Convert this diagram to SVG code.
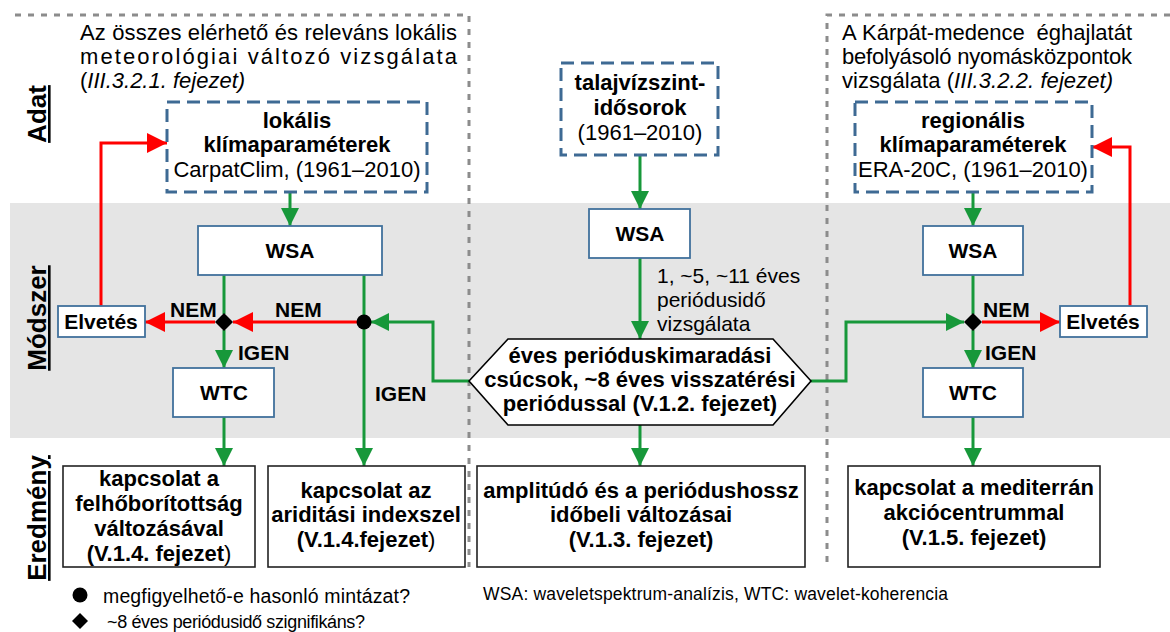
<svg xmlns="http://www.w3.org/2000/svg" width="1170" height="632" viewBox="0 0 1170 632">
<style>
text{font-family:"Liberation Sans",Arial,"DejaVu Sans",sans-serif;fill:#000}
.b{font-weight:bold}
.t22{font-size:22px}
.t21{font-size:21px}
.c{text-anchor:middle}
.e{text-anchor:end}
.dash{fill:#fff;stroke:#3e6a94;stroke-width:3;stroke-dasharray:13 7}
.proc{fill:#fff;stroke:#41719c;stroke-width:1.8}
.res{fill:#fff;stroke:#222;stroke-width:1.6}
.sep{fill:none;stroke:#8c8c8c;stroke-width:3;stroke-dasharray:6 7}
.g{fill:none;stroke:#17983a;stroke-width:3}
.r{fill:none;stroke:#f00;stroke-width:3}
.lab{font-size:26px;font-weight:bold;text-decoration:underline}
</style>
<defs>
<marker id="ag" markerUnits="userSpaceOnUse" markerWidth="18" markerHeight="18" refX="18" refY="9" orient="auto"><path d="M0,0 L18,9 L0,18 z" fill="#17983a"/></marker>
<marker id="ar" markerUnits="userSpaceOnUse" markerWidth="20" markerHeight="20" refX="20" refY="10" orient="auto"><path d="M0,0 L20,10 L0,20 z" fill="#f00"/></marker>
</defs>
<rect x="0" y="0" width="1170" height="632" fill="#fff"/>
<rect id="band" x="10" y="203" width="1160" height="235" fill="#e5e5e5"/>
<g id="separators">
<path class="sep" d="M15,15 H469 V567"/>
<path class="sep" d="M1170,15 H827 V566"/>
</g>
<g id="row-labels">
<text class="lab" transform="translate(46,114) rotate(-90)" text-anchor="middle">Adat</text>
<text class="lab" transform="translate(46,318) rotate(-90)" text-anchor="middle">Módszer</text>
<text class="lab" transform="translate(46,518) rotate(-90)" text-anchor="middle">Eredmény</text>
</g>
<g id="note-left">
<text class="t22" x="80" y="40" textLength="377" lengthAdjust="spacing">Az összes elérhető és releváns lokális</text>
<text class="t22" x="80" y="64" textLength="377" lengthAdjust="spacing">meteorológiai változó vizsgálata</text>
<text class="t22" x="80" y="88">(<tspan font-style="italic">III.3.2.1. fejezet)</tspan></text>
</g>
<g id="note-right">
<text class="t22" x="842" y="40">A</text>
<text class="t22" x="862" y="40">Kárpát-medence</text>
<text class="t22 e" x="1132" y="40">éghajlatát</text>
<text class="t22" x="842" y="64" textLength="290" lengthAdjust="spacing">befolyásoló nyomásközpontok</text>
<text class="t22" x="842" y="88" textLength="271" lengthAdjust="spacing">vizsgálata (<tspan font-style="italic">III.3.2.2. fejezet)</tspan></text>
</g>
<g id="connectors">
<path class="g" d="M290,192 V226" marker-end="url(#ag)"/>
<path class="g" d="M224,275 V314"/>
<path class="g" d="M224,330 V368" marker-end="url(#ag)"/>
<path class="g" d="M364,275 V466" marker-end="url(#ag)"/>
<path class="g" d="M469,381 H433 V322 H371" marker-end="url(#ag)"/>
<path class="g" d="M224,417 V466" marker-end="url(#ag)"/>
<path class="g" d="M640,155 V209" marker-end="url(#ag)"/>
<path class="g" d="M640,258 V339" marker-end="url(#ag)"/>
<path class="g" d="M640,425 V466" marker-end="url(#ag)"/>
<path class="g" d="M811,381 H846 V322 H964" marker-end="url(#ag)"/>
<path class="g" d="M973,192 V226" marker-end="url(#ag)"/>
<path class="g" d="M973,275 V314"/>
<path class="g" d="M973,330 V368" marker-end="url(#ag)"/>
<path class="g" d="M973,417 V466" marker-end="url(#ag)"/>
<path class="r" d="M357,322 H233" marker-end="url(#ar)"/>
<path class="r" d="M215,322 H145" marker-end="url(#ar)"/>
<path class="r" d="M101,306 V143 H167" marker-end="url(#ar)"/>
<path class="r" d="M982,322 H1060" marker-end="url(#ar)"/>
<path class="r" d="M1130,306 V147 H1092" marker-end="url(#ar)"/>
<text class="b t21" x="170" y="317">NEM</text>
<text class="b t21" x="275" y="317">NEM</text>
<text class="b t21" x="238" y="360">IGEN</text>
<text class="b t21" x="375" y="401">IGEN</text>
<text class="b t21" x="983" y="317">NEM</text>
<text class="b t21" x="985" y="360">IGEN</text>
<text class="t21" x="657" y="283">1, ~5, ~11 éves</text>
<text class="t21" x="657" y="307">periódusidő</text>
<text class="t21" x="657" y="331">vizsgálata</text>
</g>
<g id="lokalis">
<rect class="dash" x="167" y="102" width="260" height="90"/>
<text class="b t22 c" x="297" y="128">lokális</text>
<text class="b t22 c" x="297" y="152">klímaparaméterek</text>
<text class="t22 c" x="297" y="177">CarpatClim, (1961–2010)</text>
</g>
<g id="talajviz">
<rect class="dash" x="561" y="63" width="157" height="92"/>
<text class="b t22 c" x="640" y="90">talajvízszint-</text>
<text class="b t22 c" x="640" y="115">idősorok</text>
<text class="t22 c" x="640" y="140">(1961–2010)</text>
</g>
<g id="regionalis">
<rect class="dash" x="855" y="102" width="237" height="90"/>
<text class="b t22 c" x="973" y="128">regionális</text>
<text class="b t22 c" x="973" y="152">klímaparaméterek</text>
<text class="t22 c" x="973" y="177">ERA-20C, (1961–2010)</text>
</g>
<g id="wsa-left">
<rect class="proc" x="198" y="226" width="184" height="49"/>
<text class="b t21 c" x="290" y="258">WSA</text>
</g>
<g id="wsa-mid">
<rect class="proc" x="589" y="209" width="101" height="49"/>
<text class="b t21 c" x="640" y="241">WSA</text>
</g>
<g id="wsa-right">
<rect class="proc" x="923" y="226" width="100" height="49"/>
<text class="b t21 c" x="973" y="258">WSA</text>
</g>
<g id="wtc-left">
<rect class="proc" x="173" y="368" width="101" height="49"/>
<text class="b t21 c" x="224" y="400">WTC</text>
</g>
<g id="wtc-right">
<rect class="proc" x="923" y="368" width="100" height="49"/>
<text class="b t21 c" x="973" y="400">WTC</text>
</g>
<g id="elvetes-left">
<rect class="proc" x="58" y="306" width="87" height="31"/>
<text class="b t21 c" x="101" y="329">Elvetés</text>
</g>
<g id="elvetes-right">
<rect class="proc" x="1060" y="306" width="87" height="31"/>
<text class="b t21 c" x="1103" y="329">Elvetés</text>
</g>
<g id="decision-left">
<path d="M224,313 L233,322 L224,331 L215,322 z" fill="#000"/>
</g>
<g id="check-left">
<circle cx="364" cy="322" r="7.5" fill="#000"/>
</g>
<g id="decision-right">
<path d="M973,313 L982,322 L973,331 L964,322 z" fill="#000"/>
</g>
<g id="peaks">
<path d="M469,381 L508,339 H773 L811,381 L773,425 H508 z" fill="#fff" stroke="#000" stroke-width="1.6"/>
<text class="b t22 c" x="640" y="363">éves perióduskimaradási</text>
<text class="b t22 c" x="640" y="387">csúcsok, ~8 éves visszatérési</text>
<text class="b t22 c" x="640" y="411">periódussal (V.1.2. fejezet)</text>
</g>
<g id="res-felho">
<rect class="res" x="63" y="466" width="192" height="101"/>
<text class="b t22 c" x="159" y="486">kapcsolat a</text>
<text class="b t22 c" x="159" y="511">felhőborítottság</text>
<text class="b t22 c" x="159" y="536">változásával</text>
<text class="b t22 c" x="159" y="561">(V.1.4. fejezet<tspan font-weight="normal">)</tspan></text>
</g>
<g id="res-aridi">
<rect class="res" x="268" y="466" width="197" height="101"/>
<text class="b t22 c" x="366" y="498">kapcsolat az</text>
<text class="b t22 c" x="366" y="522">ariditási indexszel</text>
<text class="b t22 c" x="366" y="547">(V.1.4.fejezet<tspan font-weight="normal">)</tspan></text>
</g>
<g id="res-ampli">
<rect class="res" x="477" y="466" width="328" height="101"/>
<text class="b t22 c" x="641" y="498">amplitúdó és a periódushossz</text>
<text class="b t22 c" x="641" y="522">időbeli változásai</text>
<text class="b t22 c" x="641" y="547">(V.1.3. fejezet)</text>
</g>
<g id="res-medi">
<rect class="res" x="848" y="466" width="252" height="101"/>
<text class="b t22 c" x="974" y="495">kapcsolat a mediterrán</text>
<text class="b t22 c" x="974" y="520">akciócentrummal</text>
<text class="b t22 c" x="974" y="545">(V.1.5. fejezet)</text>
</g>
<g id="legend">
<circle cx="80" cy="595" r="7.5" fill="#000"/>
<text x="103" y="603" font-size="19.5" textLength="307" lengthAdjust="spacing">megfigyelhető-e hasonló mintázat?</text>
<path d="M80,613 L88,621 L80,629 L72,621 z" fill="#000"/>
<text x="107" y="628" font-size="18" textLength="258" lengthAdjust="spacing">~8 éves periódusidő szignifikáns?</text>
<text x="483" y="600" font-size="17.5" textLength="465" lengthAdjust="spacing">WSA: waveletspektrum-analízis, WTC: wavelet-koherencia</text>
</g>
</svg>
